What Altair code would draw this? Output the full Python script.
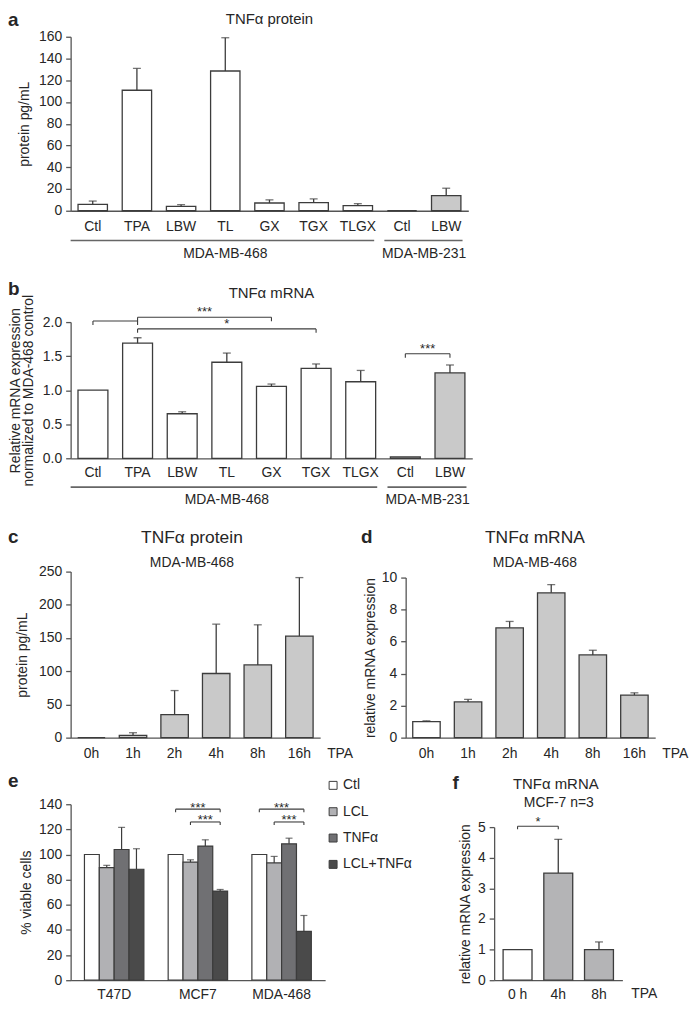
import altair as alt
import pandas as pd

FONT = "Liberation Sans"
INK = "#262626"
AXC = "#555555"
EDGE = "#3c3c3c"
GRAY = "#c9c9c9"
GRAY_F = "#b4b4b6"
WHITE = "#ffffff"

# ---------------- data ----------------
# panel a : TNFa protein
a_labels = ["Ctl", "TPA", "LBW", "TL", "GX", "TGX", "TLGX", "Ctl", "LBW"]
a_cells = ["MDA-MB-468"] * 7 + ["MDA-MB-231"] * 2
a_mean = [5.9, 110.8, 4.1, 128.5, 7.1, 7.4, 4.7, 0.0, 13.9]
a_upper = [8.9, 130.9, 5.6, 159.1, 10.0, 10.9, 6.5, 0.0, 20.7]
a_ticks = [0, 20, 40, 60, 80, 100, 120, 140, 160]

# panel b : TNFa mRNA
b_mean = [1.00, 1.69, 0.654, 1.41, 1.057, 1.32, 1.124, 0.02, 1.254]
b_upper = [1.00, 1.77, 0.683, 1.545, 1.09, 1.385, 1.29, 0.02, 1.37]
b_ticks = [0, 0.5, 1.0, 1.5, 2.0]
b_br_from = [0, 1, 1, 7]
b_br_to = [1, 4, 5, 8]
b_br_level = [2.015, 2.07, 1.90, 1.536]
b_br_text = ["", "***", "*", "***"]

group_names = ["MDA-MB-468", "MDA-MB-231"]
group_first = [0, 7]
group_last = [6, 8]

# panel c : protein time course
time_labels = ["0h", "1h", "2h", "4h", "8h", "16h"]
c_mean = [0.0, 3.5, 34.6, 96.6, 109.5, 153.0]
c_upper = [0.0, 7.4, 70.9, 170.9, 169.9, 241.0]
c_ticks = [0, 50, 100, 150, 200, 250]

# panel d : mRNA time course
d_mean = [1.0, 2.23, 6.86, 9.05, 5.17, 2.66]
d_upper = [1.05, 2.39, 7.26, 9.56, 5.46, 2.80]
d_ticks = [0, 2, 4, 6, 8, 10]

# panel e : viability
e_lines = ["T47D", "MCF7", "MDA-468"]
e_series = ["Ctl", "LCL", "TNFα", "LCL+TNFα"]
e_colors = ["#ffffff", "#b1b1b4", "#707073", "#4a4a4a"]
e_mean_t47d = [100, 89.6, 104.0, 88.3]
e_upper_t47d = [100, 91.4, 121.6, 104.6]
e_mean_mcf7 = [100, 94.0, 106.7, 70.9]
e_upper_mcf7 = [100, 95.8, 111.7, 72.2]
e_mean_mda = [100, 93.3, 108.5, 38.9]
e_upper_mda = [100, 98.5, 113.0, 51.5]
e_ticks = [0, 20, 40, 60, 80, 100, 120, 140]
e_br_line = [1, 1, 2, 2]
e_br_from = [0, 1, 0, 1]
e_br_to = [3, 3, 3, 3]
e_br_level = [136.1, 125.9, 136.1, 125.9]
e_br_text = ["***", "***", "***", "***"]

# panel f : MCF-7 mRNA
f_labels = ["0 h", "4h", "8h"]
f_mean = [1.0, 3.5, 1.0]
f_upper = [1.0, 4.6, 1.25]
f_ticks = [0, 1, 2, 3, 4, 5]
f_br_from = [0]
f_br_to = [1]
f_br_level = [5.03]
f_br_text = ["*"]


# ---------------- helpers ----------------
def label(text, x, y, size=14, weight="normal", align="center", baseline="middle"):
    return (alt.Chart(pd.DataFrame({"t": [text]}))
            .mark_text(font=FONT, fontSize=size, fontWeight=weight, align=align,
                       baseline=baseline, color=INK)
            .encode(text="t:N", x=alt.value(x), y=alt.value(y)))


def y_axis(values, title, title_x, fmt=None, line_h=None):
    kw = dict(values=values, title=title, titleX=title_x, titleBaseline="middle",
              tickSize=5, labelPadding=4, labelFlush=False, grid=False)
    if fmt:
        kw["format"] = fmt
    if line_h:
        kw["titleLineHeight"] = line_h
    return alt.Axis(**kw)


def x_axis(pad):
    return alt.Axis(title=None, labelExpr="split(datum.value, ':')[1]", labelAngle=0,
                    ticks=False, tickSize=0, labelPadding=pad, labelOverlap=False)


def y_scale(ymax, H, top=0):
    return alt.Scale(domain=[0, ymax], nice=False, zero=True, range=[H, top])


def single_panel(labels, mean, upper, fills, ys, yax, pi, po, pad, cap=8):
    keys = [f"{i}:{l}" for i, l in enumerate(labels)]
    df = pd.DataFrame({"key": keys, "mean": mean, "upper": upper, "fill": fills})
    x = alt.X("key:N", sort=keys, scale=alt.Scale(paddingInner=pi, paddingOuter=po),
              axis=x_axis(pad))
    base = alt.Chart(df)
    bars = base.mark_bar(stroke=EDGE, strokeWidth=1.3).encode(
        x=x, y=alt.Y("mean:Q", scale=ys, axis=yax), fill=alt.Fill("fill:N", scale=None))
    eb = base.transform_filter("datum.upper > datum.mean")
    err = eb.mark_rule(color=EDGE, strokeWidth=1.3).encode(
        x=x, y=alt.Y("mean:Q", scale=ys, axis=yax), y2="upper:Q")
    capm = eb.mark_tick(color=EDGE, thickness=1.3, size=cap, orient="horizontal").encode(
        x=x, y=alt.Y("upper:Q", scale=ys, axis=yax))
    return alt.layer(bars, err, capm)


def bracket_layers(x1, x2, lv, txt, xdom, ys, yax, tick_len, dy, fs=13):
    df = pd.DataFrame({"bx1": x1, "bx2": x2, "lv": lv, "t": txt})
    df["lo"] = df["lv"] - tick_len
    df["bm"] = (df["bx1"] + df["bx2"]) / 2
    xsc = alt.Scale(domain=xdom, nice=False, zero=False)
    base = alt.Chart(df)

    def yy(f):
        return alt.Y(f, scale=ys, axis=yax)

    hl = base.mark_rule(color=EDGE, strokeWidth=1.1).encode(
        x=alt.X("bx1:Q", scale=xsc, axis=None), x2="bx2:Q", y=yy("lv:Q"))
    tl = base.mark_rule(color=EDGE, strokeWidth=1.1).encode(
        x=alt.X("bx1:Q", scale=xsc, axis=None), y=yy("lv:Q"), y2="lo:Q")
    tr = base.mark_rule(color=EDGE, strokeWidth=1.1).encode(
        x=alt.X("bx2:Q", scale=xsc, axis=None), y=yy("lv:Q"), y2="lo:Q")
    tx = base.mark_text(fontSize=fs, dy=dy, baseline="alphabetic", color=INK).encode(
        x=alt.X("bm:Q", scale=xsc, axis=None), y=yy("lv:Q"), text="t:N")
    return [hl, tl, tr, tx]


def group_layers(n, line_y, text_y):
    gx1 = [0.0 if f == 0 else f + 0.1 for f in group_first]
    gx2 = [l + 1 - 0.13 for l in group_last]
    gm = [(f + l + 1) / 2 for f, l in zip(group_first, group_last)]
    df = pd.DataFrame({"gx1": gx1, "gx2": gx2, "gm": gm, "g": group_names})
    xsc = alt.Scale(domain=[0, n], nice=False, zero=False)
    base = alt.Chart(df)
    ln = base.mark_rule(color="#666666", strokeWidth=1.6).encode(
        x=alt.X("gx1:Q", scale=xsc, axis=None), x2="gx2:Q", y=alt.value(line_y))
    tx = base.mark_text(fontSize=14, color=INK, baseline="middle").encode(
        x=alt.X("gm:Q", scale=xsc, axis=None), y=alt.value(text_y), text="g:N")
    return [ln, tx]


def centers(idx, pi, po):
    return [po + i + (1 - pi) / 2 for i in idx]


cell_fill = {"MDA-MB-468": WHITE, "MDA-MB-231": GRAY}

# ---------------- panel a ----------------
WA, HA = 400, 175
piA, poA = 0.335, 0.1675
yaxA = y_axis(a_ticks, "protein pg/mL", -46)
ysA = y_scale(160, HA)
innerA = single_panel(a_labels, a_mean, a_upper, [cell_fill[c] for c in a_cells],
                      ysA, yaxA, piA, poA, 9)
A = alt.layer(
    innerA, *group_layers(len(a_labels), HA + 30, HA + 44),
    label("a", -63, -11, size=19, weight="bold", align="left", baseline="alphabetic"),
    label("TNFα protein", WA / 2, -17.5, size=15),
).resolve_scale(x="independent").properties(width=WA, height=HA)

# ---------------- panel b ----------------
WB, HB = 404, 137
piB, poB = 0.33, 0.165
yaxB = y_axis(b_ticks, ["Relative mRNA expression", "normalized to MDA-468 control"],
              -55, fmt=".1f", line_h=12.5)
ysB = y_scale(2.0, HB)
innerB = single_panel(a_labels, b_mean, b_upper, [cell_fill[c] for c in a_cells],
                      ysB, yaxB, piB, poB, 7)
brB = bracket_layers(centers(b_br_from, piB, poB), centers(b_br_to, piB, poB), b_br_level,
                     b_br_text, [0, 9 - piB + 2 * poB], ysB, yaxB, 0.058, -1)
B = alt.layer(
    innerB, *brB, *group_layers(len(a_labels), HB + 29, HB + 42),
    label("b", -63, -27, size=19, weight="bold", align="left", baseline="alphabetic"),
    label("TNFα mRNA", WB / 2, -29, size=15),
).resolve_scale(x="independent").properties(width=WB, height=HB)

# ---------------- panel c ----------------
WC, HC = 251, 167
yaxC = y_axis(c_ticks, "protein pg/mL", -48)
ysC = y_scale(250, HC)
innerC = single_panel(time_labels, c_mean, c_upper, [GRAY] * 6, ysC, yaxC, 0.34, 0.17, 9)
C = alt.layer(
    innerC,
    label("c", -63, -29, size=19, weight="bold", align="left", baseline="alphabetic"),
    label("TNFα protein", 122, -34, size=17.5),
    label("MDA-MB-468", 122, -9, size=14),
    label("TPA", WC + 7, HC + 9, size=14, align="left", baseline="top"),
).properties(width=WC, height=HC)

# ---------------- panel d ----------------
WD, HD, TD = 251, 167, 6
yaxD = y_axis(d_ticks, "relative mRNA expression", -35.5)
ysD = y_scale(10, HD, TD)
innerD = single_panel(time_labels, d_mean, d_upper, [WHITE] + [GRAY] * 5, ysD, yaxD,
                      0.34, 0.17, 9)
D = alt.layer(
    innerD,
    label("d", -45, TD - 35, size=19, weight="bold", align="left", baseline="alphabetic"),
    label("TNFα mRNA", 130, TD - 40, size=17.5),
    label("MDA-MB-468", 130, TD - 15, size=14),
    label("TPA", WD + 7, HD + 9, size=14, align="left", baseline="top"),
).properties(width=WD, height=HD)

# ---------------- panel e ----------------
WE, HE = 256, 177
piE, poE = 0.29, 0.165
rows = []
for line, mv, uv in [("T47D", e_mean_t47d, e_upper_t47d), ("MCF7", e_mean_mcf7, e_upper_mcf7),
                     ("MDA-468", e_mean_mda, e_upper_mda)]:
    for s, m, u in zip(e_series, mv, uv):
        rows.append({"line": line, "series": s, "mean": m, "upper": u})
dfE = pd.DataFrame(rows)
xE = alt.X("line:N", sort=e_lines, scale=alt.Scale(paddingInner=piE, paddingOuter=poE),
           axis=alt.Axis(title=None, labelAngle=0, ticks=False, tickSize=0, labelPadding=7,
                         labelOverlap=False))
xoE = alt.XOffset("series:N", sort=e_series, scale=alt.Scale(paddingInner=0, paddingOuter=0))
ysE = y_scale(140, HE)
yaxE = y_axis(e_ticks, "% viable cells", -44.5)
legE = alt.Legend(orient="none", legendX=257, legendY=-26, title=None, symbolType="square",
                  symbolSize=64, symbolStrokeColor=EDGE, symbolStrokeWidth=1, labelFontSize=14,
                  labelFont=FONT, labelColor=INK, labelOffset=3, rowPadding=12.5, padding=0,
                  symbolOffset=0)
baseE = alt.Chart(dfE)
barsE = baseE.mark_bar(stroke=EDGE, strokeWidth=1.2).encode(
    x=xE, xOffset=xoE, y=alt.Y("mean:Q", scale=ysE, axis=yaxE),
    fill=alt.Fill("series:N", sort=e_series,
                  scale=alt.Scale(domain=e_series, range=e_colors), legend=legE))
ebE = baseE.transform_filter("datum.upper > datum.mean")
errE = ebE.mark_rule(color=EDGE, strokeWidth=1.2).encode(
    x=xE, xOffset=xoE, y=alt.Y("mean:Q", scale=ysE, axis=yaxE), y2="upper:Q")
capE = ebE.mark_tick(color=EDGE, thickness=1.2, size=7, orient="horizontal").encode(
    x=xE, xOffset=xoE, y=alt.Y("upper:Q", scale=ysE, axis=yaxE))
innerE = alt.layer(barsE, errE, capE)


def e_center(g, s):
    return poE + g + (1 - piE) * (s + 0.5) / len(e_series)


brE = bracket_layers([e_center(g, s) for g, s in zip(e_br_line, e_br_from)],
                     [e_center(g, s) for g, s in zip(e_br_line, e_br_to)],
                     e_br_level, e_br_text, [0, 3 - piE + 2 * poE], ysE, yaxE, 2.4, 2.5)
E = alt.layer(
    innerE, *brE,
    label("e", -63, -17, size=19, weight="bold", align="left", baseline="alphabetic"),
).resolve_scale(x="independent").properties(width=WE, height=HE)

# ---------------- panel f ----------------
WF, HF, TF = 129, 177, 23
piF, poF = 0.29, 0.22
yaxF = y_axis(f_ticks, "relative mRNA expression", -29)
ysF = y_scale(5, HF, TF)
innerF = single_panel(f_labels, f_mean, f_upper, [WHITE, GRAY_F, GRAY_F], ysF, yaxF,
                      piF, poF, 7)
brF = bracket_layers(centers(f_br_from, piF, poF), centers(f_br_to, piF, poF), f_br_level,
                     f_br_text, [0, 3 - piF + 2 * poF], ysF, yaxF, 0.1, -0.5)
F = alt.layer(
    innerF, *brF,
    label("f", -42, TF - 38, size=19, weight="bold", align="left", baseline="alphabetic"),
    label("TNFα mRNA", 62, TF - 43, size=15),
    label("MCF-7 n=3", 65, TF - 24, size=14),
    label("TPA", WF + 9, HF + 7, size=14, align="left", baseline="top"),
).resolve_scale(x="independent").properties(width=WF, height=HF)

# ---------------- layout ----------------
rowCD = alt.hconcat(C, D, spacing=86, bounds="flush")
rowEF = alt.hconcat(E, F, spacing=170, bounds="flush").resolve_scale(
    fill="independent").resolve_legend(fill="independent")
top = alt.vconcat(A, B, spacing=19)
bottom = alt.vconcat(rowCD, rowEF, spacing=12)

chart = (
    alt.vconcat(top, bottom, spacing=21)
    .properties(padding=0)
    .configure(font=FONT)
    .configure_view(stroke=None)
    .configure_axis(domainColor=AXC, domainWidth=1.3, tickColor=AXC, tickWidth=1.3,
                    labelColor=INK, titleColor=INK, labelFont=FONT, titleFont=FONT,
                    labelFontSize=14, titleFontSize=14, titleFontWeight="normal", grid=False)
)

chart.save("out.html", embed_options={"renderer": "svg", "actions": False})
